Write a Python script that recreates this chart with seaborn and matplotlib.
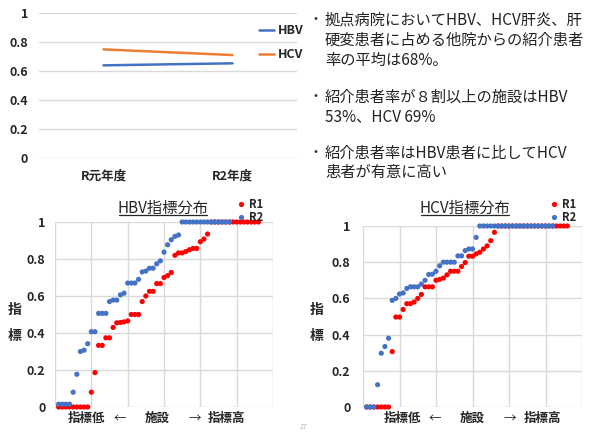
import pandas as pd
import seaborn as sns
import matplotlib.pyplot as plt
from matplotlib.lines import Line2D

# top chart: referral rate by year
years = ['R元年度', 'R2年度']
hbv_rate = [0.639, 0.653]
hcv_rate = [0.749, 0.710]

# HBV index distribution (sorted facilities)
hbv_r1 = [0, 0, 0, 0, 0, 0, 0, 0, 0,
          0.08, 0.186, 0.333, 0.333, 0.374, 0.374, 0.43, 0.455, 0.457, 0.46,
          0.465, 0.5, 0.5, 0.5, 0.57, 0.6, 0.625, 0.625, 0.667, 0.667,
          0.70, 0.71, 0.727, 0.82, 0.833, 0.833, 0.84, 0.85, 0.857, 0.857,
          0.893, 0.908, 0.935,
          1, 1, 1, 1, 1, 1, 1, 1, 1, 1, 1, 1, 1, 1]
hbv_r2 = [0.015, 0.015, 0.015, 0.015,
          0.08, 0.177, 0.30, 0.307, 0.342, 0.407, 0.407, 0.506, 0.506, 0.506,
          0.57, 0.578, 0.578, 0.606, 0.615, 0.67, 0.67, 0.67, 0.69, 0.73,
          0.735, 0.75, 0.75, 0.774, 0.79, 0.837, 0.877, 0.904, 0.922, 0.93,
          1, 1, 1, 1, 1, 1, 1, 1, 1, 1, 1, 1, 1, 1]

# HCV index distribution
hcv_r1 = [0, 0, 0, 0, 0, 0, 0,
          0.306, 0.497, 0.497, 0.539, 0.571, 0.571, 0.58, 0.6, 0.622, 0.664,
          0.664, 0.664, 0.70, 0.705, 0.712, 0.73, 0.75, 0.75, 0.75, 0.776,
          0.798, 0.833, 0.833, 0.846, 0.855, 0.873, 0.89, 0.919, 0.965,
          1, 1, 1, 1, 1, 1, 1, 1, 1, 1, 1, 1, 1, 1, 1, 1, 1, 1, 1, 1]
hcv_r2 = [0, 0, 0,
          0.123, 0.297, 0.334, 0.38, 0.589, 0.6, 0.624, 0.63, 0.655, 0.664,
          0.664, 0.664, 0.679, 0.70, 0.732, 0.734, 0.75, 0.78, 0.8, 0.8, 0.8,
          0.8, 0.835, 0.835, 0.864, 0.873, 0.873, 0.937,
          1, 1, 1, 1, 1, 1, 1, 1, 1, 1, 1, 1, 1, 1, 1, 1, 1, 1, 1, 1, 1]

ytick_vals = [0, 0.2, 0.4, 0.6, 0.8, 1]
ytick_text = ['0', '0.2', '0.4', '0.6', '0.8', '1']

bullets = [
    ['拠点病院においてHBV、HCV肝炎、肝', '硬変患者に占める他院からの紹介患者', '率の平均は68%。'],
    ['紹介患者率が８割以上の施設はHBV', '53%、HCV 69%'],
    ['紹介患者率はHBV患者に比してHCV', '患者が有意に高い'],
]

sns.set_style('white')
plt.rcParams['font.family'] = ['Noto Sans CJK JP', 'DejaVu Sans']

W, H = 592, 432
fig = plt.figure(figsize=(W / 100, H / 100), dpi=100)


def rect(x0, y_top, x1, y_bot):
    return [x0 / W, 1 - y_bot / H, (x1 - x0) / W, (y_bot - y_top) / H]


def style_y(ax, pad):
    ax.set_ylim(0, 1)
    ax.set_yticks(ytick_vals)
    ax.set_yticklabels(ytick_text, fontweight='bold', fontsize=9, color='#262626')
    ax.tick_params(axis='y', length=0, pad=pad)
    ax.set_ylabel('')
    ax.set_xlabel('')
    for s in ax.spines.values():
        s.set_visible(False)


# ---- top line chart
ax0 = fig.add_axes(rect(39, 13, 297, 158))
top = pd.DataFrame({'year': years * 2,
                    'rate': hbv_rate + hcv_rate,
                    'type': ['HBV'] * 2 + ['HCV'] * 2})
sns.lineplot(data=top, x='year', y='rate', hue='type',
             palette={'HBV': '#4472C4', 'HCV': '#ED7D31'},
             linewidth=1.8, ax=ax0)
ax0.set_xlim(-0.5, 1.5)
style_y(ax0, 8)
ax0.grid(axis='y', color='#d9d9d9', lw=1)
ax0.grid(axis='x', visible=False)
ax0.tick_params(axis='x', length=0, pad=8)
for lbl in ax0.get_xticklabels():
    lbl.set_fontweight('bold')
    lbl.set_fontsize(9)
    lbl.set_color('#262626')
sns.move_legend(ax0, 'upper left', bbox_to_anchor=(248 / W, 1 - 13 / H),
                bbox_transform=fig.transFigure, frameon=False, title=None,
                handlelength=1.2, handletextpad=0.3, labelspacing=0.85,
                prop={'weight': 'bold', 'size': 9})


# ---- scatter panels
def panel(r1, r2, box, title, title_x, leg_x, ylab_x, pad, bottom_x):
    ax = fig.add_axes(rect(*box))
    df = pd.DataFrame({
        'facility': list(range(1, len(r1) + 1)) + list(range(1, len(r2) + 1)),
        'index': r1 + r2,
        'year': ['R1'] * len(r1) + ['R2'] * len(r2),
    })
    sns.scatterplot(data=df, x='facility', y='index', hue='year',
                    palette={'R1': '#FF0000', 'R2': '#4472C4'},
                    s=14, linewidth=0, clip_on=False, ax=ax, zorder=3)
    ax.set_xlim(0, 60)
    ax.set_xticks(range(0, 61, 10))
    ax.set_xticklabels([])
    ax.tick_params(axis='x', length=0)
    style_y(ax, pad)
    ax.grid(True, color='#d9d9d9', lw=1)
    sns.move_legend(ax, 'upper left', bbox_to_anchor=(leg_x / W, 1 - 192 / H),
                    bbox_transform=fig.transFigure, frameon=False, title=None,
                    handlelength=0.6, handletextpad=0.4, labelspacing=0.0,
                    borderpad=0, prop={'weight': 'bold', 'size': 8})
    fig.text(title_x / W, 1 - 208 / H, title, ha='center', va='center',
             fontsize=11, color='#262626')
    fig.add_artist(Line2D([(title_x - 44) / W, (title_x + 44) / W],
                          [1 - 215 / H, 1 - 215 / H], transform=fig.transFigure,
                          color='#262626', lw=0.9))
    fig.text(ylab_x / W, 1 - 310 / H, '指', ha='center', va='center',
             fontsize=10, fontweight='bold', color='#262626')
    fig.text(ylab_x / W, 1 - 336 / H, '標', ha='center', va='center',
             fontsize=10, fontweight='bold', color='#262626')
    words = ['指標低', '←', '施設', '→', '指標高']
    for w, xx in zip(words, bottom_x):
        fig.text(xx / W, 1 - 418 / H, w, ha='center', va='center', fontsize=9,
                 fontweight='normal' if w in '←→' else 'bold', color='#262626')
    return ax


panel(hbv_r1, hbv_r2, (55, 222, 273, 407), 'HBV指標分布', 163, 232, 15, 7,
      [87, 120, 157, 195, 227])
panel(hcv_r1, hcv_r2, (363, 226, 582, 407), 'HCV指標分布', 465, 545, 317, 9,
      [403, 435, 472, 510, 542])

# ---- bullet text
ys = [[20, 40, 60], [97, 117], [153, 173]]
for lines, yl in zip(bullets, ys):
    fig.text(308 / W, 1 - yl[0] / H, '・', ha='left', va='center',
             fontsize=10, color='#333333')
    for line, y in zip(lines, yl):
        fig.text(325 / W, 1 - y / H, line, ha='left', va='center',
                 fontsize=11, color='#222222')

fig.text(300 / W, 1 - 427 / H, '27', fontsize=5, color='#b0b0b0',
         ha='left', va='center')

fig.savefig('out.png', dpi=100)
